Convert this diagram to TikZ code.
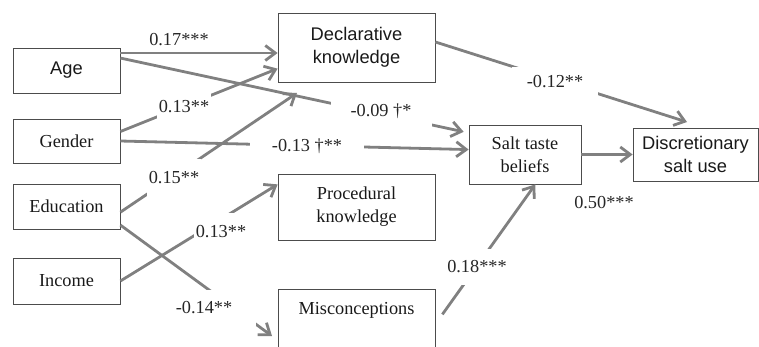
\documentclass[tikz,border=0pt]{standalone}
\usepackage{fontspec}
\setmainfont{Liberation Serif}
\setsansfont{Liberation Sans}
\usetikzlibrary{arrows.meta}

\begin{document}
\begin{tikzpicture}[x=1pt,y=-1pt,
    box/.style={draw=black!70,line width=0.8pt,align=center,inner sep=0pt,text=black!90,font=\fontsize{18.3}{23}\selectfont},
    sbox/.style={box,font=\sffamily\fontsize{18.3}{23}\selectfont},
    link/.style={draw=gray,line width=2.8pt,-{Straight Barb[length=10pt,width=15pt]}},
    coef/.style={font=\fontsize{18.3}{22}\selectfont,text=black!85,inner sep=2pt},
    gap/.style={coef,fill=white}]
    \clip (0,0) rectangle (759,346);
    \node[sbox,minimum width=107pt,minimum height=45pt] (age) at (66.5,70.5) {Age};
    \node[box,minimum width=107pt,minimum height=44pt] (gender) at (66.5,141) {Gender};
    \node[box,minimum width=107pt,minimum height=45pt] (edu) at (66.5,206.5) {Education};
    \node[box,minimum width=107pt,minimum height=46pt] (income) at (66.5,281) {Income};
    \node[sbox,minimum width=157pt,minimum height=69pt] (decl) at (356.5,47.5) {Declarative\\knowledge};
    \node[box,minimum width=157pt,minimum height=66pt] (proc) at (356.5,207) {Procedural\\knowledge};
    \node[box,minimum width=157pt,minimum height=62pt] (misc) at (356.5,320) {Misconceptions\\ ~};
    \node[box,minimum width=112pt,minimum height=59pt] (salt) at (525,154.5) {Salt taste\\beliefs};
    \node[sbox,minimum width=125pt,minimum height=53pt] (disc) at (695.5,154.5) {Discretionary\\salt use};
    \coordinate (declin) at (297,93);
    \coordinate (miscin) at (272,336);
    \coordinate (discin) at (687,122);
    \draw[link] (age.18) -- (age.18 -| decl.west);
    \draw[link,shorten >=5pt] (age.13) -- (salt.159);
    \draw[link] (gender.10) -- (decl.195);
    \draw[link] (gender.east) -- (salt.175);
    \draw[link] (edu.-6) -- (declin);
    \draw[link] (edu.-19) -- (miscin);
    \draw[link] (income.east) -- (proc.164);
    \draw[link] (decl.4) -- (discin);
    \draw[link] (salt.east) -- (disc.west);
    \draw[link,shorten <=12pt] (misc.-3) -- (salt.-71);
    \node[coef] (c1) at (179,40) {0.17***};
    \node[gap,inner xsep=20pt,inner ysep=10pt] (c2) at (381,111) {-0.09 †*};
    \node[gap,inner ysep=9pt] (c3) at (184,107) {0.13**};
    \node[gap,inner xsep=22pt,inner ysep=4pt] (c4) at (307,146) {-0.13 †**};
    \node[gap,inner ysep=13pt] (c5) at (174,178) {0.15**};
    \node[gap,inner xsep=24pt,inner ysep=12pt] (c6) at (204,308) {-0.14**};
    \node[gap,inner ysep=13pt] (c7) at (221,232) {0.13**};
    \node[gap,inner xsep=15pt,inner ysep=9pt] (c8) at (555,82) {-0.12**};
    \node[gap,inner ysep=12pt] (c9) at (477,267) {0.18***};
    \node[coef] (c10) at (604,203) {0.50***};
\end{tikzpicture}
\end{document}
